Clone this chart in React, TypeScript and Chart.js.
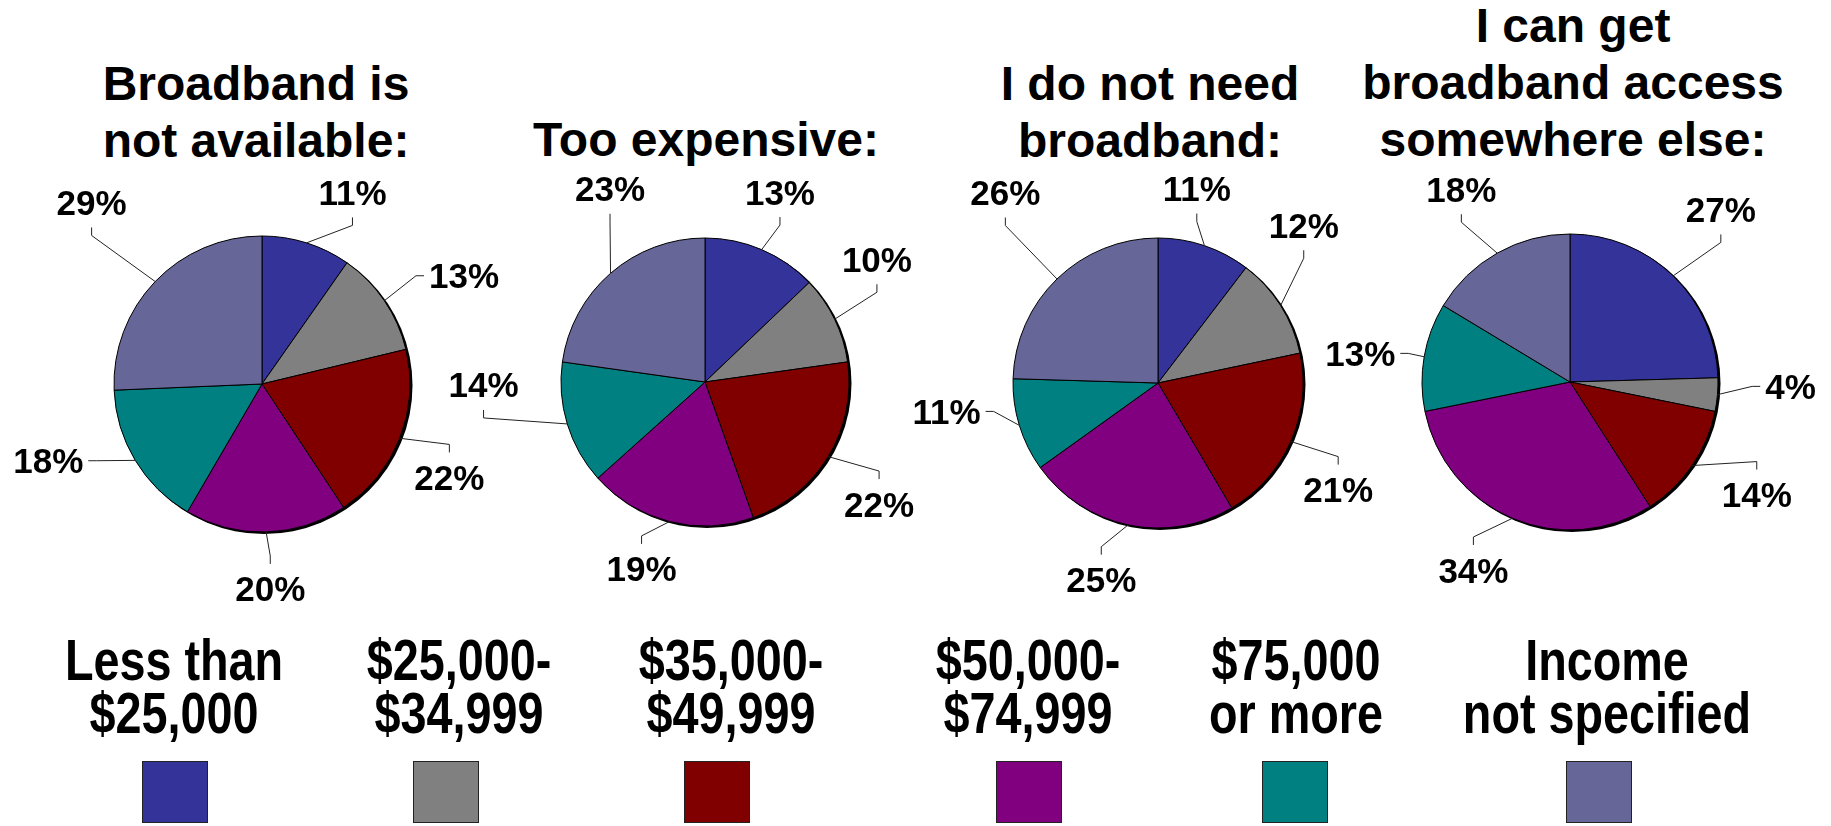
import React, { useEffect, useRef } from "react";
import { Chart, registerables } from "chart.js";

Chart.register(...registerables);

// ---------- data ----------
const categories = [
  "Less than $25,000",
  "$25,000-$34,999",
  "$35,000-$49,999",
  "$50,000-$74,999",
  "$75,000 or more",
  "Income not specified",
];
const legendLines = [
  ["Less than", "$25,000"],
  ["$25,000-", "$34,999"],
  ["$35,000-", "$49,999"],
  ["$50,000-", "$74,999"],
  ["$75,000", "or more"],
  ["Income", "not specified"],
];
const colors = ["#333399", "#808080", "#800000", "#800080", "#008080", "#666699"];

const titles = [
  ["Broadband is", "not available:"],
  ["Too expensive:"],
  ["I do not need", "broadband:"],
  ["I can get", "broadband access", "somewhere else:"],
];
const notAvailable = [11, 13, 22, 20, 18, 29];
const tooExpensive = [13, 10, 22, 19, 14, 23];
const doNotNeed = [11, 12, 21, 25, 11, 26];
const elsewhere = [27, 4, 14, 34, 13, 18];
const seriesList = [notAvailable, tooExpensive, doNotNeed, elsewhere];

// ---------- layout ----------
const pieLayout = [
  { cx: 262, cy: 384, r: 148, titleX: 256, titleTop: 55 },
  { cx: 705, cy: 382, r: 144, titleX: 706, titleTop: 111 },
  { cx: 1158, cy: 383, r: 145, titleX: 1150, titleTop: 55 },
  { cx: 1570, cy: 382, r: 148, titleX: 1573, titleTop: -3 },
];
// small hand nudges of the percentage labels away from the default radial spot (px)
const labelNudge = [
  [[23, 2], [16, 6], [-22, 19], [2, 2], [-21, -28], [-8, -41]],
  [[-12, -7], [-27, -36], [-15, 19], [-9, -6], [-10, -55], [50, -43]],
  [[-32, -5], [-42, -51], [-23, 26], [-11, 1], [0, -30], [2, -47]],
  [[-6, -27], [6, -13], [1, -2], [-9, 1], [12, 6], [2, -16]],
];
const legendTextX = [174, 459, 731, 1028, 1296, 1607];
const legendBoxX = [175, 446, 717, 1029, 1295, 1599];

const FONT = '"Liberation Sans", Arial, Helvetica, sans-serif';
const CW = 510;
const CH = 480;
const CTOP = 150;

const shadowPlugin = {
  id: "pieShadow",
  beforeDatasetsDraw(chart: any) {
    const arc = chart.getDatasetMeta(0).data[0];
    if (!arc) return;
    const { x, y, outerRadius } = arc.getProps(["x", "y", "outerRadius"], true);
    const ctx = chart.ctx;
    ctx.save();
    ctx.fillStyle = "#000";
    ctx.beginPath();
    ctx.arc(x + 2, y + 1.5, outerRadius + 0.5, 0, Math.PI * 2);
    ctx.fill();
    ctx.restore();
  },
};

const labelPlugin = {
  id: "pctLabels",
  afterDatasetsDraw(chart: any, _args: any, opts: any) {
    const ctx = chart.ctx;
    const meta = chart.getDatasetMeta(0);
    const data = chart.data.datasets[0].data;
    const nudges = (opts && opts.nudges) || [];
    const fs = 35;
    ctx.save();
    ctx.font = `bold ${fs}px ${FONT}`;
    ctx.textAlign = "center";
    ctx.textBaseline = "alphabetic";
    meta.data.forEach((arc: any, i: number) => {
      const { x, y, startAngle, endAngle, outerRadius } = arc.getProps(
        ["x", "y", "startAngle", "endAngle", "outerRadius"],
        true
      );
      const mid = (startAngle + endAngle) / 2;
      const ux = Math.cos(mid);
      const uy = Math.sin(mid);
      const text = data[i] + "%";
      const w = ctx.measureText(text).width;
      const h = 26;
      const gap = 42;
      const nd = nudges[i] || [0, 0];
      const lx = x + ux * (outerRadius + gap) + (ux * w) / 2 + nd[0];
      const ly = y + uy * (outerRadius + gap) + (uy * h) / 2 + nd[1];
      const p0x = x + ux * outerRadius;
      const p0y = y + uy * outerRadius;
      const vx = lx - p0x;
      const vy = ly - p0y;
      let ax: number, ay: number, ex: number, ey: number;
      if (Math.abs(vx) * h > Math.abs(vy) * w) {
        ax = lx - Math.sign(vx) * (w / 2 + 5);
        ay = ly;
        ex = ax - Math.sign(vx) * 8;
        ey = ay;
      } else {
        ax = lx;
        ay = ly - Math.sign(vy) * (h / 2 + 12);
        ex = ax;
        ey = ay - Math.sign(vy) * 8;
      }
      ctx.beginPath();
      ctx.moveTo(p0x, p0y);
      ctx.lineTo(ex, ey);
      ctx.lineTo(ax, ay);
      ctx.strokeStyle = "#222";
      ctx.lineWidth = 1;
      ctx.stroke();
      ctx.fillStyle = "#000";
      ctx.fillText(text, lx, ly + fs * 0.716 * 0.5);
    });
    ctx.restore();
  },
};

function PieChart({ values, layout, nudges }: { values: number[]; layout: any; nudges: number[][] }) {
  const ref = useRef<HTMLCanvasElement>(null);
  const left = layout.cx - CW / 2;
  useEffect(() => {
    if (!ref.current) return;
    const padX = CW / 2 - 0.5 - layout.r;
    const padT = layout.cy - layout.r - 0.5 - CTOP;
    const padB = CTOP + CH - (layout.cy + layout.r + 0.5);
    const chart = new Chart(ref.current, {
      type: "pie",
      data: {
        labels: categories,
        datasets: [
          {
            data: values,
            backgroundColor: colors,
            borderColor: "#000",
            borderWidth: 1,
          },
        ],
      },
      options: {
        responsive: false,
        animation: false,
        events: [],
        layout: { padding: { left: padX, right: padX, top: padT, bottom: padB } },
        plugins: {
          legend: { display: false },
          tooltip: { enabled: false },
          pctLabels: { nudges },
        },
      } as any,
      plugins: [shadowPlugin, labelPlugin],
    });
    return () => chart.destroy();
  }, []);
  return (
    <canvas
      ref={ref}
      width={CW}
      height={CH}
      style={{ position: "absolute", left, top: CTOP, width: CW, height: CH }}
    />
  );
}

export default function App() {
  return (
    <div
      style={{
        position: "absolute",
        left: 0,
        top: 0,
        width: 1831,
        height: 826,
        background: "#fff",
        overflow: "hidden",
        fontFamily: FONT,
        color: "#000",
      }}
    >
      {titles.map((lines, i) => (
        <div
          key={"t" + i}
          style={{
            position: "absolute",
            left: pieLayout[i].titleX - 260,
            width: 520,
            top: pieLayout[i].titleTop,
            textAlign: "center",
            fontWeight: "bold",
            fontSize: 48,
            lineHeight: "57px",
            whiteSpace: "nowrap",
          }}
        >
          {lines.map((l, j) => (
            <div key={j}>{l}</div>
          ))}
        </div>
      ))}
      {seriesList.map((vals, i) => (
        <PieChart key={"p" + i} values={vals} layout={pieLayout[i]} nudges={labelNudge[i]} />
      ))}
      {legendLines.map((lines, i) => (
        <div
          key={"l" + i}
          style={{
            position: "absolute",
            left: legendTextX[i] - 200,
            width: 400,
            top: 634,
            textAlign: "center",
            fontWeight: "bold",
            fontSize: 57,
            lineHeight: "53px",
            whiteSpace: "nowrap",
            transform: "scaleX(0.82)",
            transformOrigin: "center",
          }}
        >
          {lines.map((l, j) => (
            <div key={j}>{l}</div>
          ))}
        </div>
      ))}
      {colors.map((c, i) => (
        <div
          key={"b" + i}
          style={{
            position: "absolute",
            left: legendBoxX[i] - 33,
            top: 761,
            width: 66,
            height: 62,
            boxSizing: "border-box",
            background: c,
            border: "1px solid #222",
          }}
        />
      ))}
    </div>
  );
}
